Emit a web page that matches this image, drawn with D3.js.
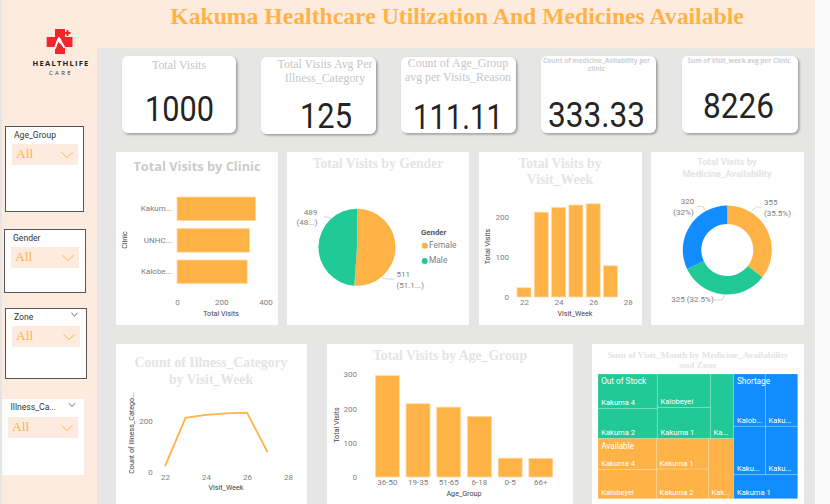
<!DOCTYPE html>
<html><head><meta charset="utf-8">
<script src="https://cdnjs.cloudflare.com/ajax/libs/d3/7.8.5/d3.min.js"></script>
<style>
html,body{margin:0;padding:0;background:#fff;overflow:hidden}
svg{display:block}
text{font-family:Roboto,sans-serif}
text.serif{font-family:"Liberation Serif",serif}
text.os{font-family:"Open Sans",sans-serif}
</style></head><body>
<svg id="c" width="830" height="504"></svg>
<script>
// ---------- data ----------
const clinics=["Kakum...","UNHC...","Kalobe..."];
const clinicVisits=[355,328,317];
const genders=["Female","Male"];
const genderVisits=[511,489];
const genderLabels=[["511","(51.1...)"],["489","(48...)"]];
const weeks=[22,23,24,25,26,27];
const weekVisits=[23,212,224,230,233,78];
const weekTicks=[22,24,26,28];
const illnessCounts=[23,212,224,230,233,78];
const availability=["Available","Out of Stock","Shortage"];
const availabilityVisits=[355,325,320];
const ageGroups=["36-50","19-35","51-65","6-18","0-5","66+"];
const ageVisits=[296,214,204,177,55,54];
const oosCol1=[["Kakuma 4",476],["Kakuma 2",420]];
const oosCol2=[["Kalobeyei",413],["Kakuma 1",388]];
const oosCol3=[["Ka...",353]];
const avCol1=[["Kakuma 4",418],["Kalobeyei",400]];
const avCol2=[["Kakuma 1",369],["Kakuma 2",360]];
const avCol3=[["Kak...",355]];
const shRow1=[["Kalob...",387],["Kaku...",395]];
const shRow2=[["Kaku...",358],["Kaku...",365]];
const shRow3=[["Kakuma 1",359]];
const kpiValues=["1000","125","111.11","333.33","8226"];

// ---------- palette ----------
const ORANGE="#FFB347",GREEN="#21C997",BLUE="#118DFF",PEACH="#FDEBDF",GREY="#E6E6E4";
const svg=d3.select("#c");
const rect=(x,y,w,h,f)=>svg.append("rect").attr("x",x).attr("y",y).attr("width",w).attr("height",h).attr("fill",f);
const text=(s,x,y,o={})=>svg.append("text").text(s).attr("x",x).attr("y",y)
  .attr("text-anchor",o.a||"middle").attr("dominant-baseline","middle").attr("font-size",o.s||8)
  .attr("fill",o.f||"#808080").attr("font-weight",o.w||400).attr("class",o.c||null)
  .attr("transform",o.r?`rotate(${o.r} ${x} ${y})`:null);

// ---------- page ----------
rect(0,0,830,504,"#FBFBFB");
rect(97,48,718,456,GREY);
rect(2,0,95,504,PEACH);
rect(0,0,2,504,GREY);
rect(97,0,718,48,PEACH);
text("Kakuma Healthcare Utilization And Medicines Available",457,19,{s:23.7,f:ORANGE,w:700,c:"serif"});

// logo
svg.append("path").attr("fill","#F0282D")
  .attr("d","M55 29H65V37H72.5V47H65V54H55V47H46.7V37H55Z");
svg.append("path").attr("fill","none").attr("stroke","#fff").attr("stroke-width",2).attr("stroke-linecap","round")
  .attr("d","M55 48L58 40L62 44M59 38L64 47");
svg.append("path").attr("fill","#F0282D").attr("d","M66.5 30H68.5V32H70.5V34H68.5V36H66.5V34H64.5V32H66.5Z");
text("HEALTHLIFE",61,63.5,{s:7.6,f:"#222",w:700,c:"os"}).attr("letter-spacing",1.2);
text("CARE",61,73,{s:6,f:"#333",c:"os"}).attr("letter-spacing",2.4);

// slicers
const chevron=(cx,cy,hw,hh,col,sw)=>svg.append("path").attr("fill","none").attr("stroke",col).attr("stroke-width",sw)
  .attr("d",`M${cx-hw} ${cy-hh}L${cx} ${cy+hh}L${cx+hw} ${cy-hh}`);
function slicer(o){
  const r=rect(o.x,o.y,o.w,o.h,"#fff");
  if(o.border) r.attr("stroke","#555").attr("stroke-width",1);
  text(o.label,o.tx,o.y+9,{a:"start",s:8.6,f:"#333"});
  rect(o.dx,o.dy,o.dw,21,PEACH);
  text("All",o.dx+4,o.dy+11,{a:"start",s:13.5,f:ORANGE,c:"serif"});
  chevron(o.dx+o.dw-11,o.dy+11,5.5,2.8,ORANGE,1);
  if(o.small) chevron(o.small,o.y+6,3,1.8,"#555",.8);
}
slicer({label:"Age_Group",x:5.5,y:126.5,w:78,h:85,border:1,tx:14,dx:12,dy:144,dw:66});
slicer({label:"Gender",x:4.5,y:229.5,w:81,h:63,border:1,tx:13,dx:11,dy:247,dw:68});
slicer({label:"Zone",x:5.5,y:308.5,w:81,h:70,border:1,tx:14,dx:12,dy:326,dw:68,small:74.5});
slicer({label:"Illness_Ca...",x:2,y:399,w:82,h:76,tx:10.5,dx:8,dy:417,dw:70,small:72});

// KPI cards
const defs=svg.append("defs");
const fl=defs.append("filter").attr("id","sh").attr("x","-10%").attr("y","-10%").attr("width","125%").attr("height","125%");
fl.append("feDropShadow").attr("dx",1.5).attr("dy",1.5).attr("stdDeviation",1).attr("flood-color","#888").attr("flood-opacity",.8);
[[122,56,114,77],[261,57,115,77],[401,57,115,76],[541,56,115,77],[682,56,116,77]].forEach(b=>{
  rect(b[0],b[1],b[2],b[3],"#fff").attr("rx",6).attr("filter","url(#sh)");
});
const kt={s:11.9,f:"#c6c6c6",c:"serif"};
text("Total Visits",179,66,kt);
text("Total Visits Avg Per",325,65,kt);
text("Illness_Category",325,79,kt);
text("Count of Age_Group",458,64,kt);
text("avg per Visits_Reason",458,78,kt);
const kt2={s:6.5,f:"#cfcfcf",w:700,c:"os"};
text("Count of medicine_Avilability per",596.5,61,kt2);
text("clinic",596.5,69,kt2);
text("Sum of Visit_week avg per Clinic",739,61,kt2);
const kv=[[145,214,120.5],[300,352,127.5],[413,503,129],[548,645,127.2],[703,774,118]];
kpiValues.forEach((v,i)=>{
  svg.append("text").text(v).attr("x",kv[i][0]).attr("y",kv[i][2])
    .attr("font-size",34.5).attr("fill","#252423").attr("font-weight",400)
    .attr("textLength",kv[i][1]-kv[i][0]).attr("lengthAdjust","spacingAndGlyphs");
});

// chart panels
[[116,152,162,173],[287,152,182,173],[479,152,163,173],[651,152,153,173],[116,344,191,160],[327,344,246,160],[592,344,212,160]]
  .forEach(b=>rect(b[0],b[1],b[2],b[3],"#fff"));

const st={f:"#e4e4e4",w:700,c:"serif",s:13.7};
text("Total Visits by Clinic",197,168,{s:12.8,f:"#cbcbcb",w:700,c:"os"});
text("Total Visits by Gender",378,165,st);
text("Total Visits by",560,165,st);
text("Visit_Week",560,181,st);
const st2={s:9.4,f:"#e4e4e4",w:700};
text("Total Visits by",727,163,st2);
text("Medicine_Availability",727,174.3,st2);
text("Count of Illness_Category",211,364,st);
text("by Visit_Week",211,380.5,st);
text("Total Visits by Age_Group",450,357,st);
const st3={f:"#e4e4e4",w:700,c:"serif",s:9.25};
text("Sum of Visit_Month by Medicine_Availability",698,355.5,st3);
text("and Zone",698,366,st3);

function styleAxis(g,size){
  g.select(".domain").remove();
  g.selectAll(".tick line").remove();
  g.selectAll("text").attr("fill","#808080").attr("font-size",size||8).style("font-family","Roboto,sans-serif");
}
const bar=(sel)=>sel.attr("fill",ORANGE).attr("stroke","#FFD9A8").attr("stroke-width",.7);
const axT={s:7.2,f:"#444"};
const fmt=d3.format("d");

// clinic
{
  const x=d3.scaleLinear().domain([0,400]).range([177,265.6]);
  const y=d3.scaleBand().domain(clinics).range([193.1,287.6]).paddingInner(.25).paddingOuter(.125);
  bar(svg.append("g").selectAll("rect").data(clinics).join("rect")
    .attr("x",x(0)).attr("y",d=>y(d)).attr("height",y.bandwidth())
    .attr("width",(d,i)=>x(clinicVisits[i])-x(0)));
  styleAxis(svg.append("g").attr("transform","translate(0,299)").call(d3.axisBottom(x).tickValues([0,200,400]).tickFormat(fmt).tickSize(0).tickPadding(0)));
  styleAxis(svg.append("g").attr("transform","translate(176,0)").call(d3.axisLeft(y).tickSize(0).tickPadding(4)));
  text("Clinic",125.5,240,{...axT,r:-90});
  text("Total Visits",221,314.5,axT);
}
// week bars
{
  const x=d3.scaleLinear().domain([22,28]).range([524,627.8]);
  const y=d3.scaleLinear().domain([0,200]).range([297,217]);
  bar(svg.append("g").selectAll("rect").data(weeks).join("rect")
    .attr("x",d=>x(d)-7).attr("width",14)
    .attr("y",(d,i)=>y(weekVisits[i])).attr("height",(d,i)=>y(0)-y(weekVisits[i])));
  styleAxis(svg.append("g").attr("transform","translate(0,299)").call(d3.axisBottom(x).tickValues(weekTicks).tickFormat(fmt).tickSize(0).tickPadding(0)));
  styleAxis(svg.append("g").attr("transform","translate(509,0)").call(d3.axisLeft(y).tickValues([0,100,200]).tickFormat(fmt).tickSize(0).tickPadding(0)));
  text("Total Visits",488.5,246.5,{...axT,r:-90});
  text("Visit_Week",575,314.5,axT);
}
// illness line
{
  const x=d3.scaleLinear().domain([22,28]).range([165,288]);
  const y=d3.scaleLinear().domain([0,200]).range([472,421]);
  svg.append("path").attr("fill","none").attr("stroke",ORANGE).attr("stroke-width",1.8)
    .attr("d",d3.line().x(d=>x(d[0])).y(d=>y(d[1]))(d3.zip(weeks,illnessCounts)));
  styleAxis(svg.append("g").attr("transform","translate(0,474)").call(d3.axisBottom(x).tickValues(weekTicks).tickFormat(fmt).tickSize(0).tickPadding(0)));
  styleAxis(svg.append("g").attr("transform","translate(152.7,0)").call(d3.axisLeft(y).tickValues([0,200]).tickFormat(fmt).tickSize(0).tickPadding(0)));
  text("Count of Illness_Catego...",131.7,433,{...axT,r:-90});
  text("Visit_Week",226,488.5,axT);
}
// age bars
{
  const x=d3.scaleBand().domain(ageGroups).range([372,556.2]).paddingInner(.22).paddingOuter(.11);
  const y=d3.scaleLinear().domain([0,300]).range([477,374.3]);
  bar(svg.append("g").selectAll("rect").data(ageGroups).join("rect")
    .attr("x",d=>x(d)).attr("width",x.bandwidth())
    .attr("y",(d,i)=>y(ageVisits[i])).attr("height",(d,i)=>y(0)-y(ageVisits[i])));
  styleAxis(svg.append("g").attr("transform","translate(0,479)").call(d3.axisBottom(x).tickSize(0).tickPadding(0)));
  styleAxis(svg.append("g").attr("transform","translate(357,0)").call(d3.axisLeft(y).tickValues([0,100,200,300]).tickFormat(fmt).tickSize(0).tickPadding(0)));
  text("Total Visits",336.7,425,{...axT,r:-90});
  text("Age_Group",464,494.5,axT);
}
const leader=(pts)=>svg.append("path").attr("fill","none").attr("stroke","#ccc").attr("stroke-width",.8).attr("d",d3.line()(pts));
// gender pie
{
  const pie=d3.pie().sort(null)(genderVisits);
  const arc=d3.arc().innerRadius(0).outerRadius(38.5);
  const col=d3.scaleOrdinal(genders,[ORANGE,GREEN]);
  svg.append("g").attr("transform","translate(357,247.3)").selectAll("path").data(pie).join("path")
    .attr("d",arc).attr("fill",(d,i)=>col(genders[i]));
  leader([[382,278],[388,279],[394,279]]);
  leader([[331,218.5],[328,217],[324,217]]);
  const lb={a:"start",s:8};
  text(genderLabels[0][0],396.5,275,lb);
  text(genderLabels[0][1],396.5,285.5,lb);
  text(genderLabels[1][0],310.5,212.5,{s:8});
  text(genderLabels[1][1],307,222.5,{s:8});
  text("Gender",421,232.5,{a:"start",s:7.8,f:"#555",w:700});
  genders.forEach((g,i)=>{
    const yy=245.7+i*15.3;
    svg.append("circle").attr("cx",424.7).attr("cy",yy).attr("r",3).attr("fill",col(g));
    text(g,429,yy,{a:"start",s:8.4});
  });
}
// availability donut
{
  const pie=d3.pie().sort(null)(availabilityVisits);
  const arc=d3.arc().innerRadius(26).outerRadius(44.5);
  const col=d3.scaleOrdinal(availability,[ORANGE,GREEN,BLUE]);
  svg.append("g").attr("transform","translate(727.3,250)").selectAll("path").data(pie).join("path")
    .attr("d",arc).attr("fill",(d,i)=>col(availability[i]));
  leader([[751.5,211],[756.5,207],[762,207]]);
  leader([[705.7,211],[703,206.7],[697,206.7]]);
  leader([[714,300],[722,300],[725,295]]);
  text("355",764,203,{a:"start",s:8});
  text("(35.5%)",764,213.5,{a:"start",s:8});
  text("320",687.5,202,{s:8});
  text("(32%)",683.5,212.5,{s:8});
  text("325 (32.5%)",692.5,300,{s:8});
}
// treemap
{
  const leaf=a=>a.map(d=>({name:d[0],value:d[1]}));
  const tree={children:[
    {children:[
      {group:"Out of Stock",fill:GREEN,children:[{children:leaf(oosCol1)},{children:leaf(oosCol2)},...leaf(oosCol3)]},
      {group:"Available",fill:ORANGE,children:[{children:leaf(avCol1)},{children:leaf(avCol2)},...leaf(avCol3)]}
    ]},
    {group:"Shortage",fill:BLUE,children:[{children:leaf(shRow1)},{children:leaf(shRow2)},...leaf(shRow3)]}
  ]};
  const root=d3.hierarchy(tree).sum(d=>d.value||0);
  d3.treemap().tile(d3.treemapSliceDice).size([199.7,124.7])(root);
  const colorOf=n=>{for(let p=n;p;p=p.parent) if(p.data.fill) return p.data.fill;};
  const leaves=root.leaves();
  const g=svg.append("g").attr("transform","translate(598,374)");
  g.append("g").selectAll("rect").data(leaves).join("rect")
    .attr("x",d=>d.x0).attr("y",d=>d.y0).attr("width",d=>d.x1-d.x0).attr("height",d=>d.y1-d.y0)
    .attr("fill",colorOf).attr("stroke","rgba(255,255,255,.22)").attr("stroke-width",.8);
  g.append("g").selectAll("text").data(leaves).join("text")
    .text(d=>d.data.name).attr("x",d=>d.x0+3.2).attr("y",d=>d.y1-5.5)
    .attr("dominant-baseline","middle").attr("font-size",7.6).attr("fill","#fff");
  g.append("g").selectAll("text").data(root.descendants().filter(d=>d.data.group)).join("text")
    .text(d=>d.data.group).attr("x",d=>d.x0+3.2).attr("y",d=>d.y0+8)
    .attr("dominant-baseline","middle").attr("font-size",8.2).attr("fill","#fff");
}
</script></body></html>
